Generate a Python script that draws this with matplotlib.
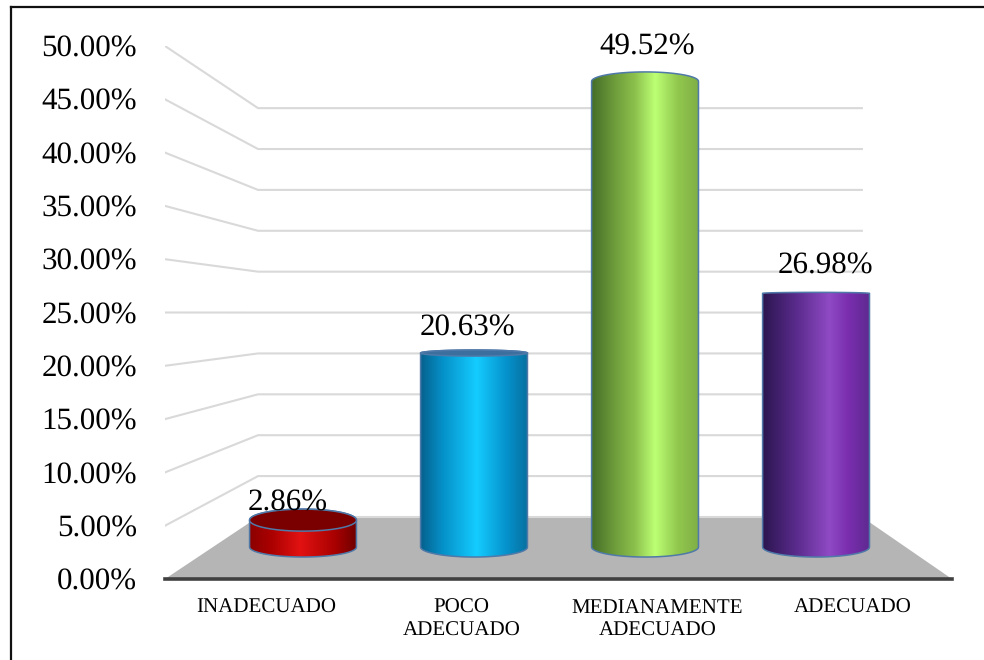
import matplotlib
matplotlib.use("Agg")
import matplotlib.pyplot as plt
import numpy as np
from matplotlib.colors import LinearSegmentedColormap
from matplotlib.lines import Line2D
from matplotlib.patches import Polygon

categories = ["INADECUADO", "POCO\nADECUADO", "MEDIANAMENTE\nADECUADO", "ADECUADO"]
values = [2.86, 20.63, 49.52, 26.98]
value_labels = ["2.86%", "20.63%", "49.52%", "26.98%"]
y_ticks = [0, 5, 10, 15, 20, 25, 30, 35, 40, 45, 50]

W, H = 984, 660
PX = 50 / 533  # data units of one pixel, vertically

# depth planes: (offset of the floor, scale of the values)
MID_BASE, MID_SCALE = 3.0, 0.882
BACK_BASE, BACK_SCALE = 5.82, 0.767
FRONT_L, FRONT_R = -0.807, 3.795
BACK_L, BACK_R = -0.263, 3.268
BAR_W = 0.625

gradients = [
    [(0, "#8c0000"), (0.2, "#ab0000"), (0.47, "#e21212"), (0.8, "#a80000"), (1, "#6e0000")],
    [(0, "#06628f"), (0.2, "#0590c8"), (0.52, "#14ccff"), (0.8, "#0592cc"), (1, "#07709f")],
    [(0, "#466f28"), (0.2, "#6c9a3a"), (0.4, "#8cc04c"), (0.59, "#bcff74"), (0.8, "#92c84e"), (1, "#7fae46")],
    [(0, "#2c1650"), (0.3, "#582a8a"), (0.62, "#8f4ac4"), (0.8, "#7a2eae"), (1, "#5e2a90")],
]
top_height = [11, 3, 9.5, 1]  # half height of the top ellipse, px
cap_color = ["#7a0000", "#3c6e9e", None, None]
label_offset = [(-15, 17), (-7, 25), (2, 34), (9, 27)]

EDGE = "#4f79a8"
SERIF = "Liberation Serif"
plt.rcParams["text.hinting"] = "none"
plt.rcParams["text.hinting_factor"] = 1

fig = plt.figure(figsize=(W / 100, H / 100), dpi=100, facecolor="white")
ax = fig.add_axes([165 / W, (H - 579) / H, 787 / W, 533 / H])
ax.patch.set_alpha(0)

# side and back wall lines
for v in y_ticks[1:]:
    yb = BACK_BASE + BACK_SCALE * v
    ax.plot([FRONT_L, BACK_L, BACK_R], [v, yb, yb], color="#d9d9d9", lw=1.5, zorder=1)

# floor
ax.add_patch(Polygon([(FRONT_L, 0), (FRONT_R, 0), (BACK_R, BACK_BASE), (BACK_L, BACK_BASE)],
                     facecolor="#b5b5b5", edgecolor="none", zorder=2))
ax.plot([BACK_L, BACK_R], [BACK_BASE, BACK_BASE], color="#d9d9d9", lw=1.5, zorder=2)

t = np.linspace(0, np.pi, 80)
for i, val in enumerate(values):
    top = MID_BASE + MID_SCALE * val
    dx = np.cos(t) * BAR_W / 2
    bottom_arc = MID_BASE - np.sin(t) * 10 * PX
    top_arc = top + np.sin(t) * top_height[i] * PX
    xs = np.concatenate([i + dx, i - dx])
    ys = np.concatenate([top_arc, bottom_arc])
    shape = Polygon(np.column_stack([xs, ys]), closed=True, facecolor="none", edgecolor=EDGE, lw=1.1, zorder=5)
    ax.add_patch(shape)
    cmap = LinearSegmentedColormap.from_list(f"bar{i}", gradients[i])
    im = ax.imshow(np.linspace(0, 1, 256)[None, :], cmap=cmap, aspect="auto", zorder=4,
                   extent=(i - BAR_W / 2, i + BAR_W / 2, MID_BASE - 1.2, top + 1.2))
    im.set_clip_path(shape)
    if cap_color[i]:
        cap_y = np.concatenate([top_arc, top - np.sin(t) * top_height[i] * PX])
        ax.add_patch(Polygon(np.column_stack([xs, cap_y]), closed=True, facecolor=cap_color[i],
                             edgecolor=EDGE, lw=1.1, zorder=5))
    ax.annotate(value_labels[i], xy=(i, top), xytext=label_offset[i], textcoords="offset pixels",
                ha="center", va="center", fontsize=22.2, family=SERIF, color="black", zorder=6)

ax.set_xlim(FRONT_L, FRONT_R)
ax.set_ylim(0, 50)
ax.set_yticks(y_ticks)
ax.set_yticklabels([f"{v:.2f}%" for v in y_ticks], fontsize=22.2, family=SERIF)
ax.set_xticks([1.5 + (i - 1.5) * 1.144 for i in range(len(categories))])
ax.set_xticklabels(categories, fontsize=15.1, family=SERIF, linespacing=1.27)
ax.tick_params(axis="y", length=0, pad=20)
ax.tick_params(axis="x", length=0, pad=14)
for side in ["top", "left", "right"]:
    ax.spines[side].set_visible(False)
ax.spines["bottom"].set_color("#404040")
ax.spines["bottom"].set_linewidth(2.6)

# picture frame, only left and top survive the crop
fig.add_artist(Line2D([11 / W, 11 / W], [0, (H - 7) / H], color="#111111", lw=1.6))
fig.add_artist(Line2D([11 / W, 1], [(H - 7) / H, (H - 7) / H], color="#111111", lw=1.6))

fig.savefig("out.png", dpi=100)
